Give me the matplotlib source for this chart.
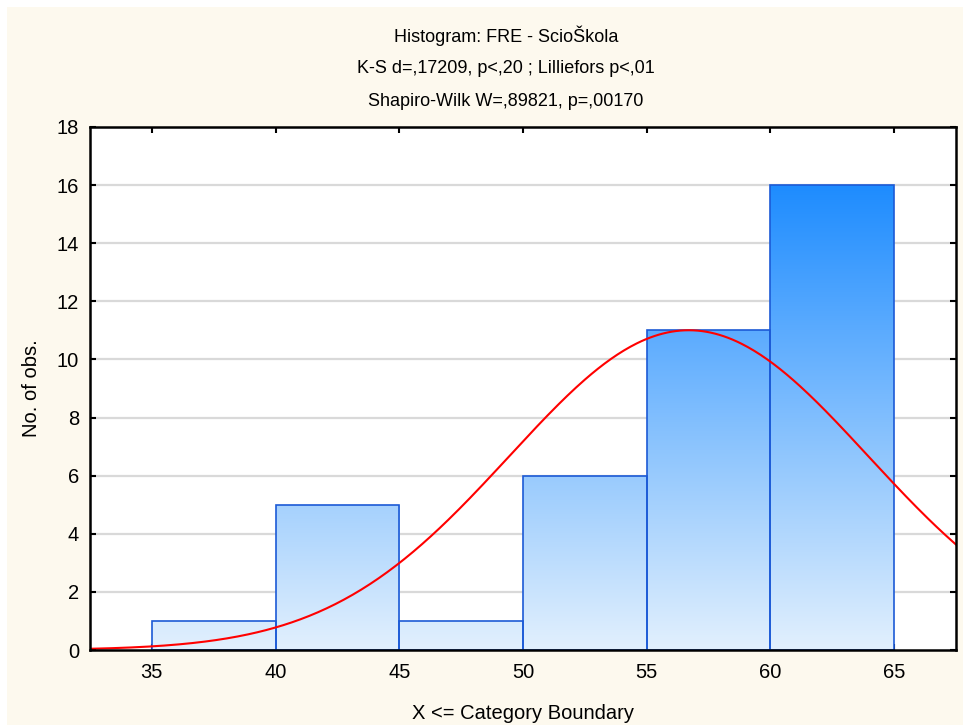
import numpy as np
import matplotlib
matplotlib.use('Agg')
import matplotlib.pyplot as plt
from matplotlib.patches import Rectangle
from matplotlib.colors import LinearSegmentedColormap

plt.rcParams['font.family'] = ['Liberation Sans', 'DejaVu Sans']

# histogram data
bin_edges = [35, 40, 45, 50, 55, 60, 65]
counts    = [1, 5, 1, 6, 11, 16]
# fitted normal curve (mean / sd)
fit_mean = 56.7
fit_sd   = 7.25

titles = ['Histogram: FRE - ScioŠkola',
          'K-S d=,17209, p<,20 ; Lilliefors p<,01',
          'Shapiro-Wilk W=,89821, p=,00170']
x_ticks = [35, 40, 45, 50, 55, 60, 65]
y_ticks = [0, 2, 4, 6, 8, 10, 12, 14, 16, 18]

W, H = 963, 725
fig = plt.figure(figsize=(W / 100, H / 100), dpi=100)
fig.patch.set_facecolor('white')
fig.patches.append(Rectangle((7 / W, 0), 1, 1 - 7 / H, transform=fig.transFigure,
                             facecolor='#fdf9ee', edgecolor='none', zorder=-10))

ax = fig.add_axes([90 / W, 1 - 650 / H, (956 - 90) / W, (650 - 127) / H])
ax.set_facecolor('white')
ax.set_xlim(32.5, 67.5)
ax.set_ylim(0, 18)

for y in y_ticks[1:-1]:
    ax.axhline(y, color='#d9d9d9', lw=1.6, zorder=1)

cmap = LinearSegmentedColormap.from_list('bars', ['#e2f0fd', '#1e8cff'])
grad = np.linspace(0, 1, 256).reshape(-1, 1)
top = max(counts)
for left, right, c in zip(bin_edges[:-1], bin_edges[1:], counts):
    img = ax.imshow(grad, cmap=cmap, aspect='auto', origin='lower',
                    extent=(left, right, 0, top), zorder=2, interpolation='bicubic')
    rect = Rectangle((left, 0), right - left, c, facecolor='none',
                     edgecolor='#1c5ad6', lw=1.2, zorder=3)
    ax.add_patch(rect)
    img.set_clip_path(rect)

xs = np.linspace(32.5, 67.5, 400)
n = sum(counts)
bw = bin_edges[1] - bin_edges[0]
ys = n * bw / (fit_sd * np.sqrt(2 * np.pi)) * np.exp(-0.5 * ((xs - fit_mean) / fit_sd) ** 2)
ax.plot(xs, ys, color='#ff0000', lw=1.5, zorder=4, clip_on=True)

ax.set_xticks(x_ticks)
ax.set_yticks(y_ticks)
ax.tick_params(direction='in', length=4, width=1.5, labelsize=14.5,
               top=True, right=True, colors='black')
ax.tick_params(axis='x', pad=9)
ax.tick_params(axis='y', pad=8)
for s in ax.spines.values():
    s.set_linewidth(1.8)
    s.set_zorder(5)

ax.set_xlabel('X <= Category Boundary', fontsize=14.5, labelpad=16)
ax.set_ylabel('No. of obs.', fontsize=14.5, labelpad=11)

for i, t in enumerate(titles):
    fig.text(506 / W, 1 - (36 + 32.5 * i) / H, t, ha='center', va='center', fontsize=13)

fig.savefig('out.png', dpi=100, facecolor=fig.get_facecolor())
